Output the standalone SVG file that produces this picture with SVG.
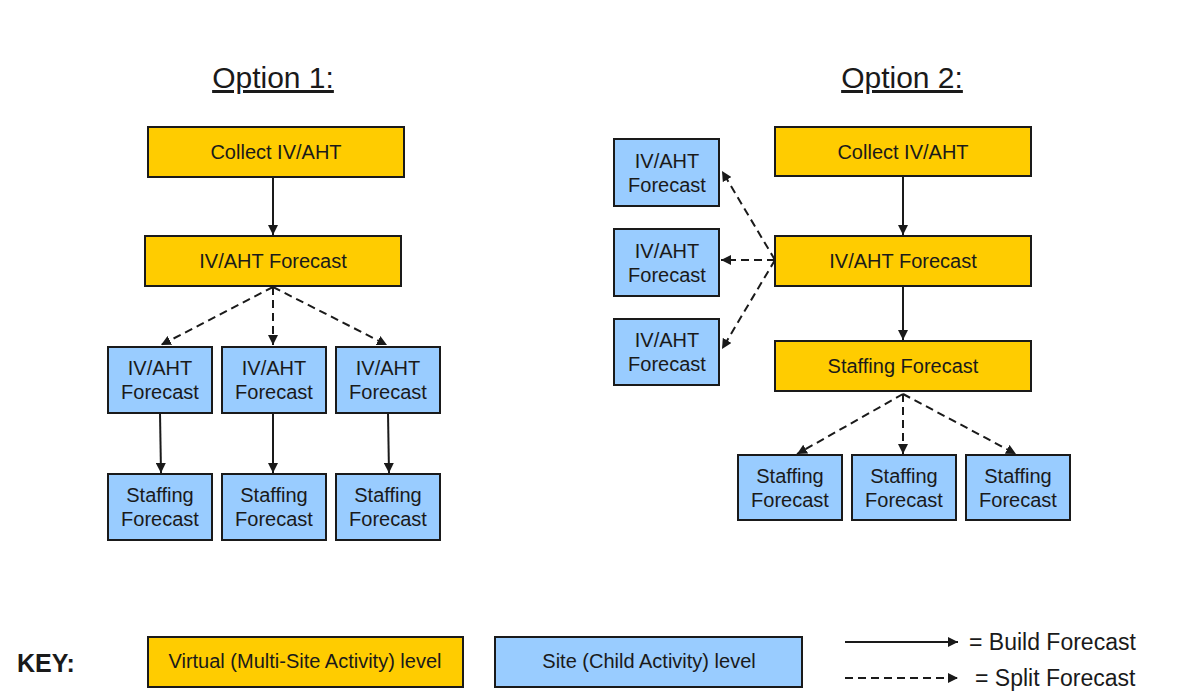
<svg xmlns="http://www.w3.org/2000/svg" width="1194" height="692" viewBox="0 0 1194 692">
<defs>
<style>
.y{fill:#FFCC00;stroke:#1a1a1a;stroke-width:2}
.b{fill:#99CCFF;stroke:#1a1a1a;stroke-width:2}
.t{font-family:"Liberation Sans",Arial,sans-serif;font-size:20px;fill:#1a1a1a;text-anchor:middle}
.h{font-family:"Liberation Sans",Arial,sans-serif;font-size:30px;fill:#1a1a1a;text-anchor:middle;text-decoration:underline}
.s{stroke:#1a1a1a;stroke-width:2;fill:none;marker-end:url(#ah)}
.d{stroke:#1a1a1a;stroke-width:2;fill:none;stroke-dasharray:8 5;marker-end:url(#ah)}
</style>
<marker id="ah" viewBox="0 0 10 10" refX="10" refY="5" markerWidth="5" markerHeight="5" orient="auto" markerUnits="strokeWidth">
<path d="M0,0 L10,5 L0,10 Z" fill="#1a1a1a"/>
</marker>
</defs>
<rect width="1194" height="692" fill="#ffffff"/>

<text class="h" x="273" y="88">Option 1:</text>
<text class="h" x="902" y="88">Option 2:</text>

<g id="connectors">
<line class="s" x1="273" y1="177" x2="273" y2="235"/>
<line class="d" x1="273" y1="287" x2="161" y2="345"/>
<line class="d" x1="273" y1="287" x2="273" y2="345"/>
<line class="d" x1="273" y1="287" x2="387" y2="345"/>
<line class="s" x1="160" y1="413" x2="161" y2="473"/>
<line class="s" x1="273" y1="413" x2="273" y2="473"/>
<line class="s" x1="388" y1="413" x2="389" y2="473"/>

<line class="s" x1="903" y1="177" x2="903" y2="235"/>
<line class="s" x1="903" y1="287" x2="903" y2="340"/>
<line class="d" x1="775" y1="260" x2="722" y2="171"/>
<line class="d" x1="775" y1="260" x2="721" y2="260"/>
<line class="d" x1="775" y1="260" x2="722" y2="349"/>
<line class="d" x1="903" y1="394" x2="797" y2="454"/>
<line class="d" x1="903" y1="394" x2="903" y2="454"/>
<line class="d" x1="903" y1="394" x2="1016" y2="454"/>
</g>

<g id="o1-collect"><rect class="y" x="148" y="127" width="256" height="50"/><text class="t" x="276" y="159">Collect IV/AHT</text></g>
<g id="o1-forecast"><rect class="y" x="145" y="236" width="256" height="50"/><text class="t" x="273" y="268">IV/AHT Forecast</text></g>
<g id="o1-site1"><rect class="b" x="108" y="347" width="104" height="66"/><text class="t" x="160" y="375">IV/AHT</text><text class="t" x="160" y="399">Forecast</text></g>
<g id="o1-site2"><rect class="b" x="222" y="347" width="104" height="66"/><text class="t" x="274" y="375">IV/AHT</text><text class="t" x="274" y="399">Forecast</text></g>
<g id="o1-site3"><rect class="b" x="336" y="347" width="104" height="66"/><text class="t" x="388" y="375">IV/AHT</text><text class="t" x="388" y="399">Forecast</text></g>
<g id="o1-staff1"><rect class="b" x="108" y="474" width="104" height="66"/><text class="t" x="160" y="502">Staffing</text><text class="t" x="160" y="526">Forecast</text></g>
<g id="o1-staff2"><rect class="b" x="222" y="474" width="104" height="66"/><text class="t" x="274" y="502">Staffing</text><text class="t" x="274" y="526">Forecast</text></g>
<g id="o1-staff3"><rect class="b" x="336" y="474" width="104" height="66"/><text class="t" x="388" y="502">Staffing</text><text class="t" x="388" y="526">Forecast</text></g>

<g id="o2-collect"><rect class="y" x="775" y="127" width="256" height="49"/><text class="t" x="903" y="159">Collect IV/AHT</text></g>
<g id="o2-forecast"><rect class="y" x="775" y="236" width="256" height="50"/><text class="t" x="903" y="268">IV/AHT Forecast</text></g>
<g id="o2-staffing"><rect class="y" x="775" y="341" width="256" height="50"/><text class="t" x="903" y="373">Staffing Forecast</text></g>
<g id="o2-site1"><rect class="b" x="614" y="139" width="105" height="67"/><text class="t" x="667" y="168">IV/AHT</text><text class="t" x="667" y="192">Forecast</text></g>
<g id="o2-site2"><rect class="b" x="614" y="229" width="105" height="67"/><text class="t" x="667" y="258">IV/AHT</text><text class="t" x="667" y="282">Forecast</text></g>
<g id="o2-site3"><rect class="b" x="614" y="319" width="105" height="66"/><text class="t" x="667" y="347">IV/AHT</text><text class="t" x="667" y="371">Forecast</text></g>
<g id="o2-staff1"><rect class="b" x="738" y="455" width="104" height="65"/><text class="t" x="790" y="483">Staffing</text><text class="t" x="790" y="507">Forecast</text></g>
<g id="o2-staff2"><rect class="b" x="852" y="455" width="104" height="65"/><text class="t" x="904" y="483">Staffing</text><text class="t" x="904" y="507">Forecast</text></g>
<g id="o2-staff3"><rect class="b" x="966" y="455" width="104" height="65"/><text class="t" x="1018" y="483">Staffing</text><text class="t" x="1018" y="507">Forecast</text></g>

<g id="key">
<text x="17" y="672" font-family="'Liberation Sans',Arial,sans-serif" font-size="25" font-weight="bold" fill="#1a1a1a">KEY:</text>
<rect class="y" x="148" y="637" width="315" height="50"/>
<text class="t" x="305" y="668">Virtual (Multi-Site Activity) level</text>
<rect class="b" x="495" y="637" width="307" height="50"/>
<text class="t" x="649" y="668">Site (Child Activity) level</text>
<line class="s" x1="845" y1="642" x2="958" y2="642"/>
<line class="d" x1="845" y1="678" x2="958" y2="678"/>
<text x="969" y="650" font-family="'Liberation Sans',Arial,sans-serif" font-size="23" fill="#1a1a1a">= Build Forecast</text>
<text x="975" y="686" font-family="'Liberation Sans',Arial,sans-serif" font-size="23" fill="#1a1a1a">= Split Forecast</text>
</g>
</svg>
